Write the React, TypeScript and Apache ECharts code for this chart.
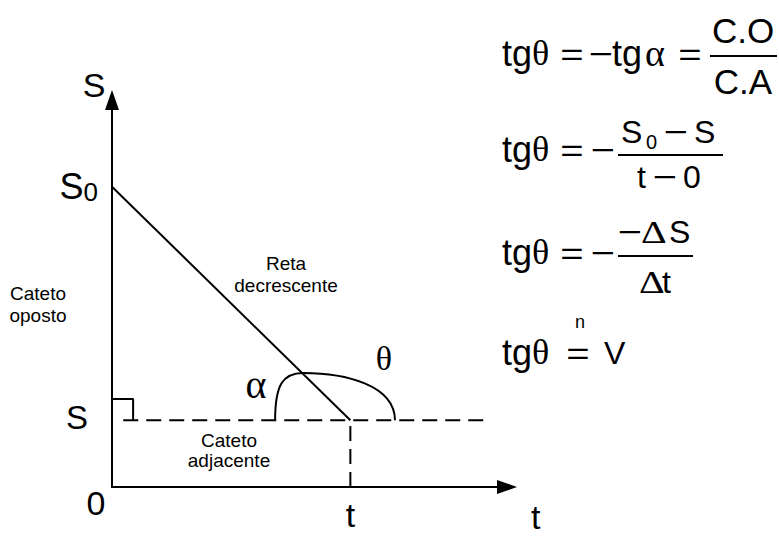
import React, { useEffect, useRef } from 'react';
import * as echarts from 'echarts';

// ---- data (in axis units: t horizontally, S vertically) ----
const axisMax = [11.6, 11.6]; // [t max, S max]
const positionLine = [[0, 9], [7, 2]]; // S0 at t=0 down to S at t
const horizontalGuide = [[0.33, 2], [11, 2]];
const verticalGuide = [[7, 0], [7, 2]];
const rightAngleMark = [[0, 2.64], [0.62, 2.64], [0.62, 2]];
const angleArc = [
  [4.79, 2], [4.79, 3.06], [5.02, 3.42], [5.61, 3.42],
  [6.84, 3.42], [8.31, 3.06], [8.31, 2],
];
const xTickValues = [0, 7];
const xTickLabels = ['0', 't'];
const yTickValues = [2, 9];
const yTickLabels = ['S', 'S0'];
const axisNames = ['t', 'S'];
const noteLabels = ['Cateto\noposto', 'Reta\ndecrescente', 'Cateto\nadjacente', 'α', 'θ'];

const SANS = 'Liberation Sans, Arial, sans-serif';
const SERIF = 'Liberation Serif, Times New Roman, serif';
const BLACK = '#000';

function txt(
  x: number, y: number, text: string, size: number, family: string,
  align = 'left', lineHeight?: number, scaleX = 1,
) {
  const style: any = {
    text,
    fill: BLACK,
    fontSize: size,
    fontFamily: family,
    align,
    verticalAlign: 'middle',
    textAlign: align,
    textVerticalAlign: 'middle',
  };
  if (lineHeight) style.lineHeight = lineHeight;
  return { type: 'text', x, y, scaleX, style, silent: true };
}

function tgTheta(y: number) {
  return [txt(502, y, 'tg', 36, SANS, 'left'), txt(532, y, 'θ', 36, SERIF, 'left')];
}

function bar(x1: number, x2: number, y: number) {
  return { type: 'line', silent: true, shape: { x1, y1: y, x2, y2: y }, style: { stroke: BLACK, lineWidth: 1.8 } };
}

const EQ = (x: number, y: number) => txt(x, y, '=', 32, SANS, 'center', undefined, 1.25);
const MINUS = (x: number, y: number) => txt(x, y, '−', 32, SANS, 'center', undefined, 1.3);

function buildGraphics() {
  const F = 32;
  const els: any[] = [];
  // formula 1
  els.push(...tgTheta(53));
  els.push(EQ(572, 54));
  els.push(MINUS(601, 54));
  els.push(txt(612, 53, 'tg', 36, SANS, 'left'));
  els.push(txt(645, 53, 'α', 38, SERIF, 'left'));
  els.push(EQ(690, 54));
  els.push(bar(710, 777, 56));
  els.push(txt(743, 30, 'C.O', 35, SANS, 'center'));
  els.push(txt(743, 81, 'C.A', 35, SANS, 'center'));
  // formula 2
  els.push(...tgTheta(149));
  els.push(EQ(572, 150));
  els.push(MINUS(603, 150));
  els.push(bar(618, 723, 155));
  els.push(txt(621, 132, 'S', F, SANS, 'left'));
  els.push(txt(646, 142, '0', 20, SANS, 'left'));
  els.push(MINUS(676, 132));
  els.push(txt(694, 132, 'S', F, SANS, 'left'));
  els.push(txt(637, 177, 't', F, SANS, 'left'));
  els.push(MINUS(665, 177));
  els.push(txt(683, 177, '0', F, SANS, 'left'));
  // formula 3
  els.push(...tgTheta(252));
  els.push(EQ(572, 253));
  els.push(MINUS(603, 253));
  els.push(bar(618, 693, 256));
  els.push(MINUS(630, 232));
  els.push(txt(641, 232, 'Δ', F, SERIF, 'left', undefined, 1.25));
  els.push(txt(669, 232, 'S', F, SANS, 'left'));
  els.push(txt(639, 282, 'Δ', F, SERIF, 'left', undefined, 1.25));
  els.push(txt(662, 282, 't', F, SANS, 'left'));
  // formula 4
  els.push(...tgTheta(352));
  els.push(EQ(578, 353));
  els.push(txt(580, 322, 'n', 18, SANS, 'center'));
  els.push(txt(604, 353, 'V', F, SANS, 'left'));
  // notes
  els.push(txt(38, 304, noteLabels[0], 19, SANS, 'center', 22));
  els.push(txt(286, 274, noteLabels[1], 19, SANS, 'center', 22));
  els.push(txt(229, 450, noteLabels[2], 19, SANS, 'center', 20));
  els.push(txt(256, 384, noteLabels[3], 40, SERIF, 'center'));
  els.push(txt(384, 358, noteLabels[4], 34, SERIF, 'center'));
  return els;
}

const solid = { color: BLACK, width: 2, type: 'solid' as const };
const dashed = { color: BLACK, width: 2, type: [15, 8] as any };

function lineSeries(data: number[][], lineStyle: any) {
  return {
    type: 'line',
    data,
    symbol: 'none',
    lineStyle,
    silent: true,
    clip: false,
    z: 3,
  };
}

export default function App() {
  const ref = useRef<HTMLDivElement>(null);
  useEffect(() => {
    if (!ref.current) return;
    const chart = echarts.init(ref.current, undefined, { renderer: 'svg' });
    const option: any = {
      animation: false,
      backgroundColor: '#fff',
      grid: {
        left: 112, right: 272, top: 100, bottom: 50,
        containLabel: false,
        outerBoundsMode: 'none',
      },
      xAxis: {
        type: 'value',
        min: 0,
        max: axisMax[0],
        name: `{n|${axisNames[0]}}`,
        nameLocation: 'end',
        nameGap: 24,
        nameTextStyle: {
          verticalAlign: 'top',
          align: 'left',
          rich: { n: { fontSize: 34, fontFamily: SANS, color: BLACK, lineHeight: 24, padding: [35, 0, 0, 0] } },
        },
        axisLine: {
          show: true,
          onZero: false,
          lineStyle: { color: BLACK, width: 2 },
          symbol: ['none', 'triangle'],
          symbolSize: [14, 20],
        },
        axisTick: { show: false },
        splitLine: { show: false },
        axisLabel: {
          show: true,
          customValues: xTickValues,
          margin: -6,
          color: BLACK,
          formatter: (v: number) => {
            const i = xTickValues.indexOf(v);
            if (i < 0) return '';
            return i === 0 ? `{z|${xTickLabels[i]}}` : `{t|${xTickLabels[i]}}`;
          },
          rich: {
            z: { fontSize: 34, fontFamily: SANS, color: BLACK, padding: [5, 32, 0, 0] },
            t: { fontSize: 34, fontFamily: SANS, color: BLACK, lineHeight: 24, padding: [43, 0, 0, 0] },
          },
        },
      },
      yAxis: {
        type: 'value',
        min: 0,
        max: axisMax[1],
        name: axisNames[1],
        nameLocation: 'end',
        nameGap: -2,
        nameTextStyle: { fontSize: 34, fontFamily: SANS, color: BLACK, padding: [0, 36, 0, 0] },
        axisLine: {
          show: true,
          onZero: false,
          lineStyle: { color: BLACK, width: 2 },
          symbol: ['none', 'triangle'],
          symbolSize: [14, 20],
        },
        axisTick: { show: false },
        splitLine: { show: false },
        axisLabel: {
          show: true,
          customValues: yTickValues,
          margin: 14,
          color: BLACK,
          formatter: (v: number) => {
            const i = yTickValues.indexOf(v);
            if (i < 0) return '';
            const lab = yTickLabels[i];
            if (lab.length > 1) return `{s|${lab[0]}}{sub|${lab.slice(1)}}`;
            return `{s2|${lab}}`;
          },
          rich: {
            s: { fontSize: 36, fontFamily: SANS, color: BLACK },
            sub: { fontSize: 26, fontFamily: SANS, color: BLACK, verticalAlign: 'bottom' },
            s2: { fontSize: 33, fontFamily: SANS, color: BLACK, padding: [0, 10, 6, 0] },
          },
        },
      },
      series: [
        lineSeries(positionLine, solid),
        lineSeries(horizontalGuide, dashed),
        lineSeries(verticalGuide, dashed),
        lineSeries(rightAngleMark, solid),
        {
          type: 'custom',
          coordinateSystem: 'cartesian2d',
          data: [[angleArc[0][0], angleArc[0][1]]],
          silent: true,
          clip: false,
          z: 4,
          renderItem: (_params: any, api: any) => {
            const p = angleArc.map((pt) => api.coord(pt));
            const f = (q: number[]) => `${q[0].toFixed(2)} ${q[1].toFixed(2)}`;
            const d = `M${f(p[0])} C${f(p[1])} ${f(p[2])} ${f(p[3])} C${f(p[4])} ${f(p[5])} ${f(p[6])}`;
            return {
              type: 'path',
              shape: { pathData: d },
              style: { fill: 'none', stroke: BLACK, lineWidth: 2 },
            };
          },
        },
      ],
      graphic: { elements: buildGraphics() },
    };
    chart.setOption(option);
    return () => chart.dispose();
  }, []);
  return (
    <div
      ref={ref}
      style={{ position: 'fixed', left: 0, top: 0, width: 779, height: 537, background: '#fff' }}
    />
  );
}
